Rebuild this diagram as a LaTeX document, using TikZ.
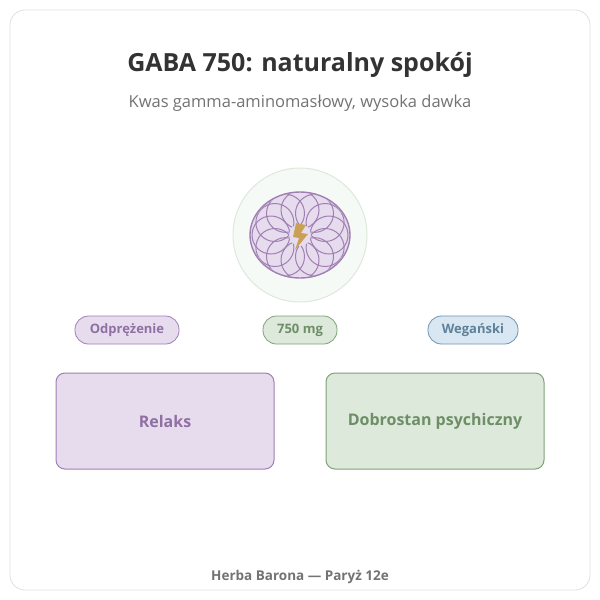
\documentclass[tikz,border=0pt]{standalone}
\usepackage{fontspec}
\setmainfont{Open Sans}
\begin{document}
\begin{tikzpicture}[x=1pt,y=-1pt,
 pill/.style={draw, rounded corners=13.5pt, minimum height=28pt, font=\bfseries\fontsize{13}{15}\selectfont, line width=0.8pt},
 box/.style={draw, rounded corners=9pt, minimum width=218pt, minimum height=96pt, font=\bfseries\fontsize{16}{19}\selectfont, line width=1pt}]
\definecolor{pf}{HTML}{E6DCEE}\definecolor{pb}{HTML}{A07FB3}\definecolor{pt}{HTML}{9070A3}
\definecolor{gf}{HTML}{DDE9DA}\definecolor{gb}{HTML}{7FA277}\definecolor{gt}{HTML}{6E8E68}
\definecolor{bf}{HTML}{D8E7F1}\definecolor{bb}{HTML}{6E93AD}\definecolor{bt}{HTML}{5E819A}
\definecolor{gold}{HTML}{C9A055}
\useasboundingbox (0,0) rectangle (600,600);
\fill[white] (0,0) rectangle (600,600);
\draw[draw=black!12, rounded corners=15pt, line width=0.8pt] (10,10) rectangle (590,590);
\node (title) at (300,65) {\bfseries\fontsize{25}{30}\selectfont\color{black!80}GABA 750: naturalny spokój};
\node (sub) at (300,103) {\fontsize{16.5}{20}\selectfont\color{black!55}Kwas gamma-aminomasłowy, wysoka dawka};
% icon
\filldraw[fill=gf!25, draw=gf, line width=1pt] (300,235) circle (67);
\filldraw[fill=pf, draw=pb, line width=1.4pt] (300,235) ellipse (50 and 43);
\begin{scope}
\clip (300,235) ellipse (49 and 42);
\foreach \a in {0,30,...,330}{
 \draw[pb, line width=1pt] ({300+29*cos(\a)},{235+25*sin(\a)}) circle (19);
}
\end{scope}
\fill[pf] (300,235) circle (11);
\fill[gold] (296,223) -- (306,225) -- (301,233) -- (308,234) -- (295,250) -- (299,238) -- (293,237) -- cycle;
% pills
\node[pill, fill=pf, draw=pb, text=pt, minimum width=104pt] (p1) at (127,330) {Odprężenie};
\node[pill, fill=gf, draw=gb, text=gt, minimum width=74pt] (p2) at (300,330) {750 mg};
\node[pill, fill=bf, draw=bb, text=bt, minimum width=90pt] (p3) at (473,330) {Wegański};
% boxes
\node[box, fill=pf, draw=pb, text=pt] (b1) at (165,421) {Relaks};
\node[box, fill=gf, draw=gb, text=gt] (b2) at (435,421) {Dobrostan psychiczny};
\node (foot) at (300,577) {\bfseries\fontsize{13.5}{16}\selectfont\color{black!55}Herba Barona — Paryż 12e};
\end{tikzpicture}
\end{document}
